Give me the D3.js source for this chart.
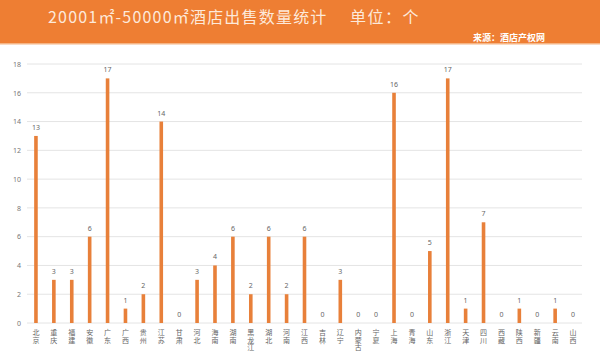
<!DOCTYPE html>
<html>
<head>
<meta charset="utf-8">
<script src="https://cdn.jsdelivr.net/npm/d3@7"></script>
<style>
  body { margin: 0; background: #fff; }
  svg { display: block; font-family: "Noto Sans CJK SC", "Noto Sans", sans-serif; }
</style>
</head>
<body>
<svg id="chart" width="600" height="357"></svg>
<script>
const provinces = ["北京", "重庆", "福建", "安徽", "广东", "广西", "贵州", "江苏", "甘肃", "河北",
  "海南", "湖南", "黑龙江", "湖北", "河南", "江西", "吉林", "辽宁", "内蒙古", "宁夏",
  "上海", "青海", "山东", "浙江", "天津", "四川", "西藏", "陕西", "新疆", "云南", "山西"];
const counts = [13, 3, 3, 6, 17, 1, 2, 14, 0, 3, 4, 6, 2, 6, 2, 6, 0, 3, 0, 0,
  16, 0, 5, 17, 1, 7, 0, 1, 0, 1, 0];
const yTicks = [0, 2, 4, 6, 8, 10, 12, 14, 16, 18];
const title = "20001㎡-50000㎡酒店出售数量统计";
const unit = "单位：个";
const source = "来源：酒店产权网";

const data = provinces.map((p, i) => ({ name: p, value: counts[i] }));

const svg = d3.select("#chart");
const plotLeft = 27, plotRight = 582, plotTop = 64, plotBottom = 323;

// header band
svg.append("rect")
  .attr("x", 0).attr("y", 0)
  .attr("width", 600).attr("height", 44)
  .attr("fill", "#ee7e33");
svg.append("rect")
  .attr("x", 0).attr("y", 43)
  .attr("width", 600).attr("height", 1.5)
  .attr("fill", "#f5b585");

svg.append("text")
  .attr("x", 48).attr("y", 23)
  .attr("fill", "#fde9da")
  .attr("font-size", 16)
  .attr("letter-spacing", 1.2)
  .text(title);
svg.append("text")
  .attr("x", 350).attr("y", 23)
  .attr("fill", "#fde9da")
  .attr("font-size", 16)
  .attr("letter-spacing", 1.5)
  .text(unit);
svg.append("text")
  .attr("x", 545).attr("y", 41)
  .attr("text-anchor", "end")
  .attr("fill", "#fff")
  .attr("font-size", 9)
  .attr("font-weight", "bold")
  .text(source);

const x = d3.scaleBand()
  .domain(provinces)
  .range([plotLeft, plotRight]);
const cx = name => x(name) + x.bandwidth() / 2;

const y = d3.scaleLinear()
  .domain([0, 18])
  .range([plotBottom, plotTop]);

// grid lines
svg.append("g")
  .selectAll("line")
  .data(yTicks)
  .enter()
  .append("line")
  .attr("x1", plotLeft).attr("x2", plotRight)
  .attr("y1", d => y(d)).attr("y2", d => y(d))
  .attr("stroke", "#e4e4e4")
  .attr("stroke-width", 1);

// y axis labels
const yAxis = svg.append("g")
  .attr("transform", "translate(21,0)")
  .call(d3.axisLeft(y).tickValues(yTicks).tickSize(0).tickPadding(0));
yAxis.select(".domain").remove();
yAxis.selectAll("text")
  .attr("font-size", 7)
  .attr("fill", "#777")
  .attr("font-family", "'Noto Sans', sans-serif");

// bars
svg.append("g")
  .selectAll("rect")
  .data(data)
  .enter()
  .append("rect")
  .attr("x", d => cx(d.name) - 1.8)
  .attr("y", d => y(d.value))
  .attr("width", 3.6)
  .attr("height", d => plotBottom - y(d.value))
  .attr("fill", "#e8803a");

// value labels
svg.append("g")
  .selectAll("text")
  .data(data)
  .enter()
  .append("text")
  .attr("x", d => cx(d.name))
  .attr("y", d => y(d.value) - 6)
  .attr("text-anchor", "middle")
  .attr("font-size", 7)
  .attr("fill", "#666")
  .attr("font-family", "'Noto Sans', sans-serif")
  .text(d => d.value);

// category labels, written top to bottom
svg.append("g")
  .selectAll("text")
  .data(data)
  .enter()
  .append("text")
  .attr("x", d => cx(d.name))
  .attr("y", 329)
  .style("writing-mode", "vertical-rl")
  .style("text-orientation", "upright")
  .attr("letter-spacing", 0.4)
  .attr("font-size", 7)
  .attr("fill", "#666")
  .text(d => d.name);
</script>
</body>
</html>
